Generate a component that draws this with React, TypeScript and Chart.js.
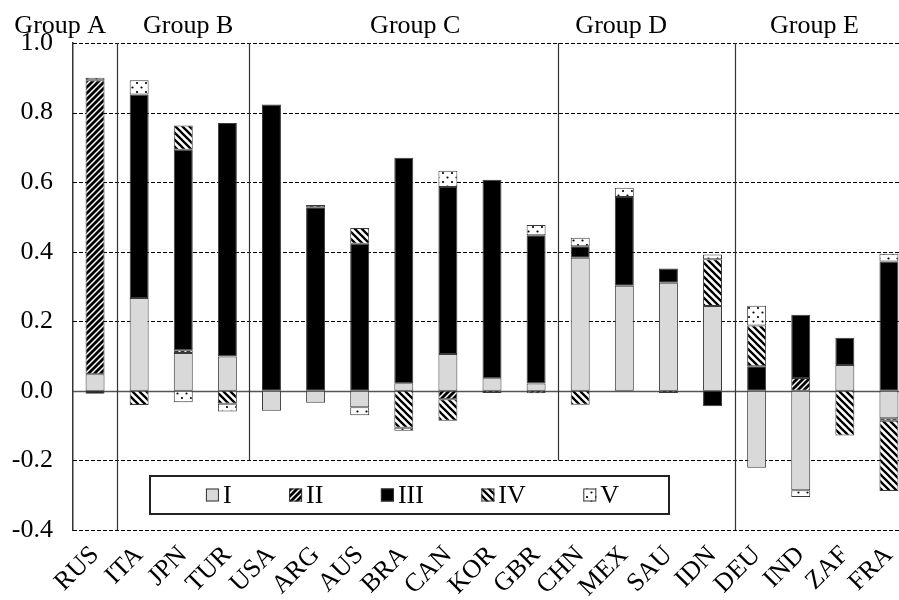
import React, { useEffect, useRef } from 'react';
import { Chart, registerables } from 'chart.js';

Chart.register(...registerables);

const categories = ['RUS', 'ITA', 'JPN', 'TUR', 'USA', 'ARG', 'AUS', 'BRA', 'CAN', 'KOR', 'GBR', 'CHN', 'MEX', 'SAU', 'IDN', 'DEU', 'IND', 'ZAF', 'FRA'];
const seriesNames = ['I', 'II', 'III', 'IV', 'V'];

const seriesI = [0.048, 0.267, 0.109, 0.099, -0.057, -0.034, -0.047, 0.022, 0.106, 0.036, 0.021, 0.383, 0.302, 0.311, 0.244, -0.221, -0.286, 0.074, -0.079];
const seriesII = [0.845, null, 0.008, null, null, null, null, null, -0.024, -0.006, -0.007, null, null, -0.006, null, null, 0.037, null, -0.007];
const seriesIII = [-0.008, 0.585, 0.576, 0.671, 0.823, 0.528, 0.423, 0.648, 0.480, 0.571, 0.426, 0.033, 0.255, 0.041, -0.044, 0.071, 0.182, 0.079, 0.372];
const seriesIV = [null, -0.041, 0.070, -0.037, null, 0.006, 0.045, -0.106, -0.062, null, null, -0.040, null, null, 0.134, 0.117, null, -0.128, -0.202];
const seriesV = [0.007, 0.041, -0.033, -0.022, null, null, -0.023, -0.009, 0.047, null, 0.030, 0.024, 0.027, null, 0.014, 0.057, -0.019, null, 0.022];

const yMin = -0.4;
const yMax = 1.0;
const yStep = 0.2;

const groupNames = ['Group A', 'Group B', 'Group C', 'Group D', 'Group E'];
const groupLabelPos = [-0.79, 2.11, 7.26, 11.93, 16.31];
const dividerPos = [0.5, 3.5, 10.5, 14.5];
const dividerBottom = [-0.4, -0.2, -0.2, -0.4];

const FONT = "'Liberation Serif', 'Times New Roman', serif";

function makePatterns(ctx: CanvasRenderingContext2D) {
  const tile = (size: number, draw: (t: CanvasRenderingContext2D) => void) => {
    const c = document.createElement('canvas');
    c.width = size;
    c.height = size;
    const t = c.getContext('2d') as CanvasRenderingContext2D;
    t.fillStyle = '#fff';
    t.fillRect(0, 0, size, size);
    draw(t);
    return ctx.createPattern(c, 'repeat') as CanvasPattern;
  };
  const II = tile(6, (t) => {
    t.strokeStyle = '#000';
    t.lineWidth = 2.8;
    t.beginPath();
    t.moveTo(-1, 7); t.lineTo(7, -1);
    t.moveTo(-1, 1); t.lineTo(1, -1);
    t.moveTo(5, 7); t.lineTo(7, 5);
    t.stroke();
  });
  const IV = tile(7, (t) => {
    t.strokeStyle = '#000';
    t.lineWidth = 2.3;
    t.beginPath();
    t.moveTo(-1, -1); t.lineTo(8, 8);
    t.moveTo(-1, 6); t.lineTo(1, 8);
    t.moveTo(6, -1); t.lineTo(8, 1);
    t.stroke();
  });
  const V = tile(9, (t) => {
    t.fillStyle = '#000';
    t.beginPath();
    t.arc(2, 2, 1.1, 0, Math.PI * 2);
    t.arc(6.5, 6.5, 1.1, 0, Math.PI * 2);
    t.fill();
  });
  return ['#d9d9d9', II, '#000000', IV, V];
}

export default function App() {
  const ref = useRef<HTMLCanvasElement | null>(null);

  useEffect(() => {
    const canvas = ref.current;
    if (!canvas) return;
    const ctx = canvas.getContext('2d') as CanvasRenderingContext2D;
    const fills = makePatterns(ctx);
    const seriesData = [seriesI, seriesII, seriesIII, seriesIV, seriesV];

    const decor = {
      id: 'decor',
      beforeDatasetsDraw(chart: any) {
        const c = chart.ctx;
        const { left, right, top } = chart.chartArea;
        const ys = chart.scales.y;
        const xs = chart.scales.x;
        c.save();
        ys.ticks.forEach((t: any) => {
          const y = Math.round(ys.getPixelForValue(t.value)) + 0.5;
          c.beginPath();
          if (Math.abs(t.value) < 1e-9) {
            c.setLineDash([]);
            c.strokeStyle = '#555';
            c.lineWidth = 1.5;
          } else {
            c.setLineDash([4, 2]);
            c.strokeStyle = '#000';
            c.lineWidth = 1;
          }
          c.moveTo(left, y);
          c.lineTo(right, y);
          c.stroke();
        });
        c.setLineDash([]);
        c.strokeStyle = '#333';
        c.lineWidth = 1.2;
        dividerPos.forEach((p, i) => {
          const x = Math.round(xs.getPixelForValue(p)) + 0.5;
          c.beginPath();
          c.moveTo(x, top);
          c.lineTo(x, ys.getPixelForValue(dividerBottom[i]));
          c.stroke();
        });
        c.restore();
      },
      afterDraw(chart: any) {
        const c = chart.ctx;
        const xs = chart.scales.x;
        c.save();
        c.fillStyle = '#000';
        c.font = `26px ${FONT}`;
        c.textAlign = 'center';
        c.textBaseline = 'alphabetic';
        groupNames.forEach((g, i) => {
          c.fillText(g, xs.getPixelForValue(groupLabelPos[i]), 33);
        });

        const bx = 150, by = 476, bw = 519, bh = 38;
        c.fillStyle = '#fff';
        c.fillRect(bx, by, bw, bh);
        c.strokeStyle = '#222';
        c.lineWidth = 2;
        c.strokeRect(bx, by, bw, bh);
        c.font = `26px ${FONT}`;
        const sw = 13, gapSw = 4, gapItem = 57.5;
        const widths = seriesNames.map((n) => sw + gapSw + c.measureText(n).width);
        const total = widths.reduce((a, b) => a + b, 0) + gapItem * (seriesNames.length - 1);
        let x = bx + bw / 2 - total / 2 + 3;
        const cy = by + bh / 2;
        seriesNames.forEach((n, i) => {
          c.fillStyle = fills[i] as any;
          c.fillRect(x, cy - sw / 2, sw, sw);
          c.strokeStyle = '#333';
          c.lineWidth = 1;
          c.strokeRect(x + 0.5, cy - sw / 2 + 0.5, sw - 1, sw - 1);
          c.fillStyle = '#000';
          c.textAlign = 'left';
          c.textBaseline = 'middle';
          c.fillText(n, x + sw + gapSw, cy + 1);
          x += widths[i] + gapItem;
        });
        c.restore();
      },
    };

    const chart = new Chart(ctx, {
      type: 'bar',
      data: {
        labels: categories,
        datasets: seriesNames.map((name, i) => ({
          label: name,
          data: seriesData[i] as any,
          backgroundColor: fills[i] as any,
          borderColor: '#3a3a3a',
          borderWidth: 1,
          borderSkipped: false,
          barPercentage: 0.43,
          categoryPercentage: 1,
        })),
      },
      options: {
        responsive: false,
        animation: false,
        layout: { padding: { left: 0, right: 4, top: 43, bottom: 0 } },
        plugins: {
          legend: { display: false },
          tooltip: { enabled: false },
        },
        scales: {
          x: {
            stacked: true,
            offset: true,
            grid: { display: false, drawTicks: false },
            border: { display: false },
            ticks: {
              autoSkip: false,
              minRotation: 45,
              maxRotation: 45,
              color: '#000',
              padding: 10,
              font: { family: FONT, size: 26 },
            },
            afterFit: (s: any) => {
              s.height = 70;
              s.paddingLeft = 0;
              s.paddingRight = 0;
            },
          },
          y: {
            stacked: true,
            min: yMin,
            max: yMax,
            grid: { display: false, drawTicks: false },
            border: { display: true, color: '#333', width: 1.5 },
            ticks: {
              stepSize: yStep,
              color: '#000',
              padding: 20,
              font: { family: FONT, size: 26 },
              callback: (v: any) => (Math.abs(Number(v)) < 1e-9 ? 0 : Number(v)).toFixed(1),
            },
            afterFit: (s: any) => { s.width = 73; },
          },
        },
      },
      plugins: [decor],
    });
    return () => chart.destroy();
  }, []);

  return (
    <div style={{ position: 'fixed', left: 0, top: 0, width: 899, height: 600, overflow: 'hidden', background: '#fff' }}>
      <canvas ref={ref} width={915} height={600} style={{ display: 'block', width: 915, height: 600 }} />
    </div>
  );
}
